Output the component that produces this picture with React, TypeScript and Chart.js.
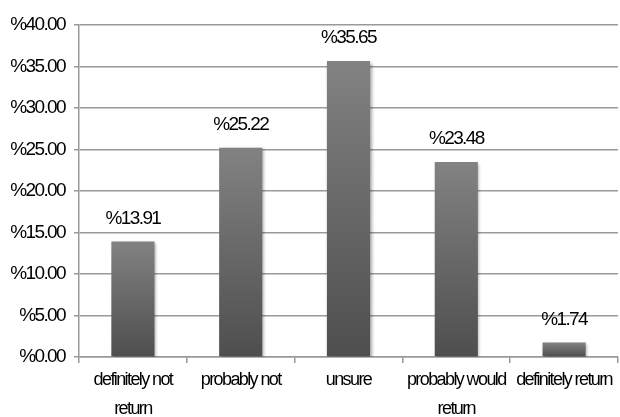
import React, { useEffect, useRef } from "react";
import { Chart, registerables } from "chart.js";

Chart.register(...registerables);

const categories: (string | string[])[] = [
  ["definitely not", "return"],
  "probably not",
  "unsure",
  ["probably would", "return"],
  "definitely return",
];
const percentValues: number[] = [13.91, 25.22, 35.65, 23.48, 1.74];
const yTickMin = 0;
const yTickMax = 40;
const yTickStep = 5;

const FONT = "'Liberation Sans', Arial, sans-serif";
const SPACING = "-1.6px";

export default function App() {
  const ref = useRef<HTMLCanvasElement | null>(null);

  useEffect(() => {
    document.body.style.margin = "0";
    const canvas = ref.current;
    if (!canvas) return;

    const condensePlugin = {
      id: "condense",
      beforeUpdate(chart: any) {
        chart.ctx.letterSpacing = SPACING;
      },
      beforeLayout(chart: any) {
        chart.ctx.letterSpacing = SPACING;
      },
      beforeDraw(chart: any) {
        chart.ctx.letterSpacing = SPACING;
      },
    };

    const labelPlugin = {
      id: "barLabels",
      beforeDatasetsDraw(chart: any) {
        const ctx = chart.ctx;
        ctx.save();
        ctx.shadowColor = "rgba(0,0,0,0.35)";
        ctx.shadowBlur = 3;
        ctx.shadowOffsetX = 1.5;
        ctx.shadowOffsetY = 1.5;
      },
      afterDatasetsDraw(chart: any) {
        const ctx = chart.ctx;
        ctx.restore();
        ctx.save();
        ctx.letterSpacing = SPACING;
        ctx.font = `19px ${FONT}`;
        ctx.fillStyle = "#000";
        ctx.textAlign = "center";
        ctx.textBaseline = "middle";
        const meta = chart.getDatasetMeta(0);
        meta.data.forEach((bar: any, i: number) => {
          ctx.fillText("%" + percentValues[i].toFixed(2), bar.x, bar.y - 23);
        });
        ctx.restore();
      },
    };

    const chart = new Chart(canvas, {
      type: "bar",
      data: {
        labels: categories,
        datasets: [
          {
            data: percentValues,
            backgroundColor: (c: any) => {
              const ch = c.chart;
              const area = ch.chartArea;
              if (!area || c.dataIndex === undefined) return "#666";
              const ys = ch.scales.y;
              const top = ys.getPixelForValue(percentValues[c.dataIndex]);
              const bottom = ys.getPixelForValue(0);
              const g = ch.ctx.createLinearGradient(0, top, 0, bottom);
              g.addColorStop(0, "#828282");
              g.addColorStop(1, "#4e4e4e");
              return g;
            },
            borderWidth: 0,
            barPercentage: 0.4,
            categoryPercentage: 1,
          },
        ],
      },
      options: {
        responsive: false,
        animation: false,
        devicePixelRatio: 1,
        layout: { padding: { top: 25, right: 2, bottom: 0, left: 0 } },
        plugins: {
          legend: { display: false },
          tooltip: { enabled: false },
        },
        scales: {
          x: {
            grid: {
              display: true,
              drawOnChartArea: false,
              drawTicks: true,
              tickLength: 6,
              color: "#999",
              lineWidth: 1.5,
              offset: true,
            },
            border: { display: true, color: "#999", width: 1.5 },
            ticks: {
              color: "#000",
              font: { family: FONT, size: 18, lineHeight: 1.6 },
              padding: 3,
              maxRotation: 0,
              autoSkip: false,
            },
            afterFit(scale: any) {
              scale.height = 60;
              scale.paddingLeft = 0;
              scale.paddingRight = 0;
            },
          },
          y: {
            min: yTickMin,
            max: yTickMax,
            ticks: {
              stepSize: yTickStep,
              color: "#000",
              font: { family: FONT, size: 19 },
              padding: 9,
              callback: (v: any) => "%" + Number(v).toFixed(2),
            },
            grid: {
              color: "#999",
              lineWidth: 1.5,
              tickLength: 5,
            },
            border: { display: true, color: "#999", width: 1.5 },
            afterFit(scale: any) {
              scale.width = 79;
              scale.paddingTop = 0;
              scale.paddingBottom = 0;
            },
          },
        },
      },
      plugins: [condensePlugin, labelPlugin],
    });

    return () => chart.destroy();
  }, []);

  return (
    <div style={{ width: 620, height: 417, background: "#fff" }}>
      <canvas ref={ref} width={620} height={417} style={{ display: "block" }} />
    </div>
  );
}
